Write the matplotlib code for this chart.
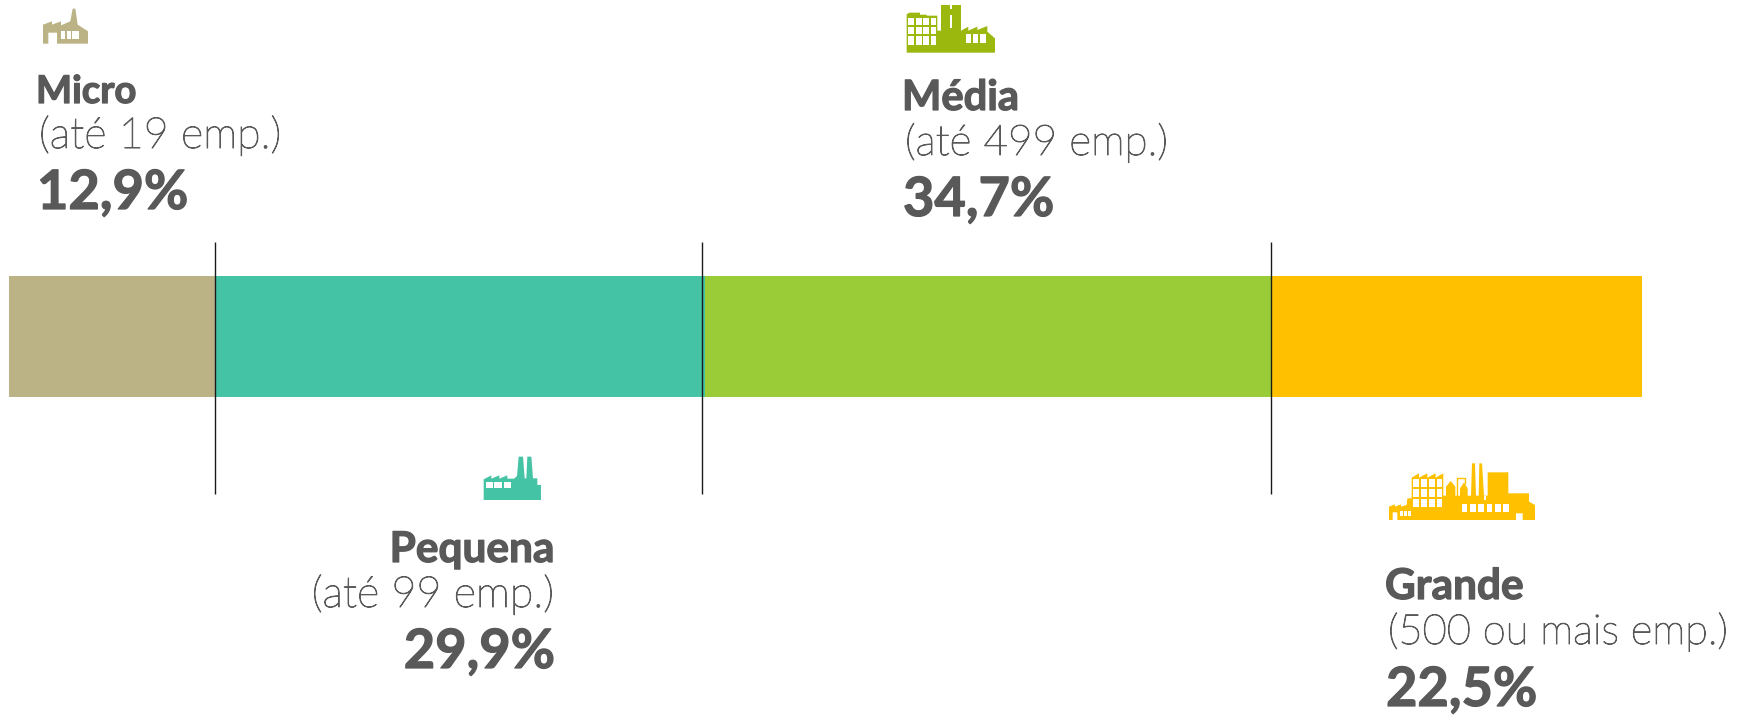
import matplotlib
matplotlib.use("Agg")
import matplotlib.pyplot as plt
import matplotlib.patheffects as pe
from matplotlib.patches import Polygon, Rectangle

W, H = 1754, 716
GREY = "#595959"

# ---- data ----
categories = ["Micro", "Pequena", "Média", "Grande"]
ranges = ["(até 19 emp.)", "(até 99 emp.)", "(até 499 emp.)", "(500 ou mais emp.)"]
pct_labels = ["12,9%", "29,9%", "34,7%", "22,5%"]
bar_lengths = [12.7, 29.9, 34.7, 22.7]      # drawn lengths, % of the whole bar
separators = [12.6, 42.45, 77.3]            # thin vertical rules, same scale
bar_colors = ["#BBB285", "#44C3A5", "#99CC37", "#FFC000"]

fig = plt.figure(figsize=(W / 100, H / 100), dpi=100, facecolor="white")

# bar axes
BX0, BX1, BY0, BY1 = 9, 1642, 276, 397
ax = fig.add_axes([BX0 / W, 1 - BY1 / H, (BX1 - BX0) / W, (BY1 - BY0) / H])
ax.set_xlim(0, 100)
ax.set_ylim(0, 1)
ax.axis("off")
left = 0
for v, c in zip(bar_lengths, bar_colors):
    ax.barh(0.5, v, left=left, height=1, color=c, linewidth=0)
    left += v
for s in separators:
    ax.plot([s, s], [-0.80, 1.28], color="#1a1a1a", lw=1.0, clip_on=False, zorder=5,
            solid_capstyle="butt")

# overlay in pixel coordinates for text and icons
ov = fig.add_axes([0, 0, 1, 1], facecolor="none")
ov.set_xlim(0, W)
ov.set_ylim(H, 0)
ov.axis("off")


def icon(origin, color, outline, holes=(), lines=()):
    ox, oy = origin
    tr = lambda p: (ox + p[0] / 3, oy + p[1] / 3)
    ov.add_patch(Polygon([tr(p) for p in outline], closed=True, fc=color, ec="none"))
    for x0, y0, x1, y1 in holes:
        (a, b), (c, d) = tr((x0, y0)), tr((x1, y1))
        ov.add_patch(Rectangle((a, b), c - a, d - b, fc="white", ec="none"))
    for seg in lines:
        ov.plot(*zip(*[tr(p) for p in seg]), color=color, lw=1.0)


icon((36, 2), "#BBB285",
     [(21, 125), (21, 68), (48, 58), (48, 68), (75, 58), (75, 70), (103, 58), (110, 20), (118, 20),
      (125, 68), (156, 88), (156, 125), (63, 125), (63, 92), (37, 92), (37, 125)],
     [(75, 88, 87, 112), (92, 88, 104, 112), (109, 88, 128, 112)])

icon((900, 0), "#9BB80F",
     [(20, 158), (20, 43), (28, 38), (60, 38), (60, 44), (80, 44), (80, 47), (112, 47), (112, 92),
      (123, 92), (123, 15), (183, 15), (183, 92), (205, 80), (205, 92), (232, 80), (232, 90), (262, 78),
      (262, 95), (285, 115), (285, 158)],
     [(x0, y0, x1, y1)
      for x0, x1 in [(25, 43), (48, 65), (70, 88), (92, 108)]
      for y0, y1 in [(53, 75), (80, 102), (107, 135)]]
     + [(197, 103, 214, 130), (219, 103, 235, 130), (240, 103, 257, 130),
        (149, 15, 155, 27), (150, 45, 155, 85)])

icon((478, 450), "#44C3A5",
     [(17, 150), (17, 88), (40, 76), (40, 86), (64, 76), (64, 86), (88, 76), (88, 86), (108, 86),
      (117, 78), (122, 20), (135, 20), (140, 85), (145, 85), (148, 20), (160, 20), (165, 85),
      (178, 85), (178, 105), (189, 105), (189, 150)],
     [(23, 95, 44, 113), (48, 95, 71, 113), (77, 95, 100, 113)])

icon((1380, 455), "#FFC000",
     [(27, 195), (27, 155), (45, 148), (45, 155), (63, 148), (63, 155), (80, 150), (82, 130), (95, 130),
      (95, 68), (117, 55), (117, 68), (142, 55), (142, 68), (167, 55), (167, 68), (190, 55), (190, 122),
      (198, 122), (198, 95), (212, 78), (226, 95), (226, 122), (240, 122), (240, 100), (252, 82),
      (263, 100), (263, 122), (273, 122), (276, 25), (285, 25), (288, 122), (296, 122), (298, 25),
      (306, 25), (312, 122), (323, 122), (323, 52), (385, 52), (385, 115), (447, 115), (447, 140),
      (465, 150), (465, 195), (428, 195), (428, 175), (408, 175), (408, 195), (52, 195), (52, 172),
      (38, 172), (38, 195)],
     [(x0, y0, x1, y1)
      for x0, x1 in [(100, 117), (122, 140), (146, 164), (170, 187)]
      for y0, y1 in [(73, 95), (102, 125), (132, 155)]]
     + [(x, 148, x + 17, 172) for x in (245, 270, 295, 320, 345, 369)]
     + [(60, 167, 69, 183), (71, 167, 80, 183), (83, 167, 92, 183), (311, 124, 318, 135)],
     [[(232, 122), (232, 68), (255, 68), (255, 85)]])

# text blocks: x, alignment, baselines of the three rows, sizes of the first two rows
blocks = [
    (36, "left", 103, 148, 209, 27.5, 31),
    (555, "right", 562, 607, 668, 30.5, 31),
    (902, "left", 110, 155, 216, 30, 30.5),
    (1385, "left", 599, 644, 706, 30.5, 30),
]
FAMILY = ["Lato", "DejaVu Sans"]
thick_bold = [pe.withStroke(linewidth=0.9, foreground=GREY)]
thick_light = [pe.withStroke(linewidth=0.7, foreground=GREY)]
for cat, rng, pct, (x, ha, y1, y2, y3, s1, s2) in zip(categories, ranges, pct_labels, blocks):
    ov.text(x, y1, cat, ha=ha, va="baseline", family=FAMILY, weight="bold", size=s1,
            color=GREY, path_effects=thick_bold)
    ov.text(x + (3 if ha == "left" else -1), y2, rng, ha=ha, va="baseline", family=FAMILY,
            weight="light", size=s2, color=GREY, path_effects=thick_light)
    ov.text(x + (1 if ha == "left" else 0), y3, pct, ha=ha, va="baseline", family=FAMILY,
            weight="bold", size=39, color=GREY, path_effects=thick_bold)

fig.savefig("out.png", dpi=100, facecolor="white")
